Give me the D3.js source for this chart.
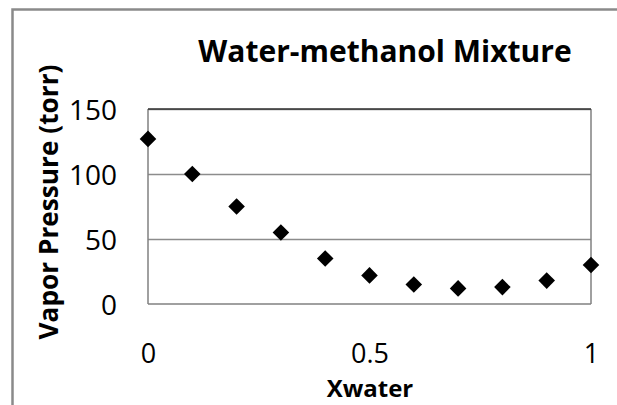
<!DOCTYPE html>
<html lang="en">
<head>
    <meta charset="UTF-8">
    <title>Water-methanol Mixture</title>
    <script src="https://d3js.org/d3.v7.min.js"></script>
    <style>
        body { margin: 0; background: white; }
        text { font-family: "Open Sans", "Liberation Sans", sans-serif; fill: black; }
    </style>
</head>
<body>
    <div id="chart"></div>

    <script>
        // mole fraction of water vs vapor pressure
        const xwater = [0, 0.1, 0.2, 0.3, 0.4, 0.5, 0.6, 0.7, 0.8, 0.9, 1.0];
        const pressure = [127, 100, 75, 55, 35, 22, 15, 12, 13, 18, 30];
        const xTicks = [0, 0.5, 1];
        const yTicks = [0, 50, 100, 150];

        const width = 617;
        const height = 405;
        const margin = { left: 148, right: 26, top: 109, bottom: 101 };

        const svg = d3.select("#chart").append("svg")
            .attr("width", width)
            .attr("height", height);

        // shrink/grow a label so it spans roughly the same width as in the original
        function fitText(sel, targetWidth, maxSize) {
            sel.attr("font-size", 20);
            const w = sel.node().getComputedTextLength();
            sel.attr("font-size", Math.min(maxSize, 20 * targetWidth / w));
        }

        // outer chart border (runs off the right and bottom edge)
        svg.append("rect")
            .attr("x", 12.5)
            .attr("y", 9.5)
            .attr("width", 620)
            .attr("height", 420)
            .attr("fill", "white")
            .attr("stroke", "#8a8a8a")
            .attr("stroke-width", 2.5);

        const x = d3.scaleLinear()
            .domain([0, 1])
            .range([margin.left, width - margin.right]);

        const y = d3.scaleLinear()
            .domain([0, 150])
            .range([height - margin.bottom, margin.top]);

        // gridlines
        svg.append("g")
            .selectAll("line")
            .data(yTicks.filter(d => d > 0))
            .enter().append("line")
            .attr("x1", x(0))
            .attr("x2", x(1))
            .attr("y1", d => Math.round(y(d)) + 0.5)
            .attr("y2", d => Math.round(y(d)) + 0.5)
            .attr("stroke", "#8c8c8c")
            .attr("stroke-width", 1.5);

        // plot area box: left, right, bottom gray
        const box = svg.append("g").attr("stroke", "#808080").attr("stroke-width", 1.5);
        box.append("line").attr("x1", x(0)).attr("x2", x(0)).attr("y1", y(150)).attr("y2", y(0));
        box.append("line").attr("x1", x(1)).attr("x2", x(1)).attr("y1", y(150)).attr("y2", y(0));
        box.append("line").attr("x1", x(0)).attr("x2", x(1)).attr("y1", y(0)).attr("y2", y(0));
        svg.append("line")
            .attr("x1", x(0)).attr("x2", x(1))
            .attr("y1", y(150)).attr("y2", y(150))
            .attr("stroke", "#333").attr("stroke-width", 1.5);

        // axes: labels only
        const yAxis = svg.append("g")
            .attr("transform", `translate(${x(0) - 31},0)`)
            .call(d3.axisLeft(y).tickValues(yTicks).tickSize(0).tickPadding(0));
        yAxis.select(".domain").remove();
        yAxis.selectAll("text")
            .attr("font-size", 28)
            .attr("dy", "0.36em");

        const xAxis = svg.append("g")
            .attr("transform", `translate(0,${y(0) + 59})`)
            .call(d3.axisBottom(x).tickValues(xTicks).tickSize(0).tickPadding(0).tickFormat(d3.format("")));
        xAxis.select(".domain").remove();
        xAxis.selectAll("text")
            .attr("font-size", 27)
            .attr("y", 0)
            .attr("dy", 0);

        // markers
        const pts = xwater.map((d, i) => ({ x: d, y: pressure[i] }));
        svg.append("g")
            .selectAll("path")
            .data(pts)
            .enter().append("path")
            .attr("d", d3.symbol().type(d3.symbolDiamond2).size(175))
            .attr("transform", d => `translate(${x(d.x)},${y(d.y)})`)
            .attr("fill", "black");

        const title = svg.append("text")
            .attr("x", 385)
            .attr("y", 62)
            .attr("text-anchor", "middle")
            .attr("font-weight", "bold")
            .text("Water-methanol Mixture");
        fitText(title, 380, 30);

        const xTitle = svg.append("text")
            .attr("x", 370)
            .attr("y", 397)
            .attr("text-anchor", "middle")
            .attr("font-weight", "bold")
            .text("Xwater");
        fitText(xTitle, 88, 24);

        const yTitle = svg.append("text")
            .attr("transform", "translate(58,202) rotate(-90)")
            .attr("text-anchor", "middle")
            .attr("font-weight", "bold")
            .text("Vapor Pressure (torr)");
        fitText(yTitle, 275, 28);
    </script>
</body>
</html>
